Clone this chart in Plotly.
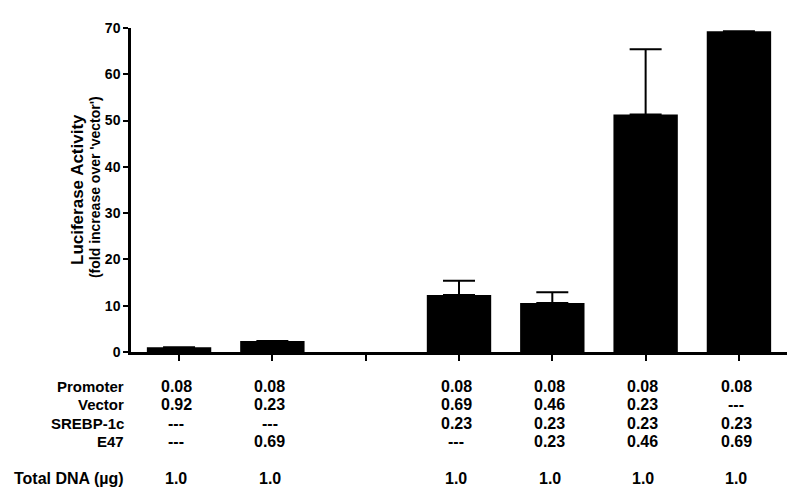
import plotly.graph_objects as go

# Data
groups = ["G1", "G2", "", "G3", "G4", "G5", "G6"]
activity = [1.0, 2.4, None, 12.3, 10.6, 51.3, 69.3]
err_up = [None, None, None, 3.1, 2.3, 14.1, None]
row_labels = ["Promoter", "Vector", "SREBP-1c", "E47", "Total DNA (µg)"]
promoter = ["0.08", "0.08", "", "0.08", "0.08", "0.08", "0.08"]
vector = ["0.92", "0.23", "", "0.69", "0.46", "0.23", "---"]
srebp = ["---", "---", "", "0.23", "0.23", "0.23", "0.23"]
e47 = ["---", "0.69", "", "---", "0.23", "0.46", "0.69"]
total_dna = ["1.0", "1.0", "", "1.0", "1.0", "1.0", "1.0"]
yticks = [0, 10, 20, 30, 40, 50, 60, 70]

FONT = "Liberation Sans, Arial, Helvetica, sans-serif"
xpos = list(range(len(groups)))

# page has an 8px body margin; compensate
OFF = 8
W, H = 800 - OFF, 500 - OFF

fig = go.Figure()
fig.add_trace(go.Bar(
    x=xpos, y=activity, width=0.69,
    marker=dict(color="black", line=dict(width=0)),
    error_y=dict(type="data", symmetric=False, array=err_up,
                 arrayminus=[0] * len(groups), color="black",
                 thickness=2, width=16, visible=True),
    showlegend=False,
))

# plot area geometry (page pixels)
top_px, bottom_px, left_px, right_px = 20, 352, 131, 787
def py(p):
    return (bottom_px - p) / (bottom_px - top_px)
def px(p):
    return (p - left_px) / (right_px - left_px)

rows = [promoter, vector, srebp, e47, total_dna]
row_y = [387, 406, 425, 444, 482]
label_sizes = [15, 15, 15, 15, 16]
ann = []
for lab, vals, ypix, ls in zip(row_labels, rows, row_y, label_sizes):
    ann.append(dict(text="<b>%s</b>" % lab, xref="paper", yref="paper",
                    x=px(126), y=py(ypix), xanchor="right", yanchor="middle",
                    showarrow=False, font=dict(family=FONT, size=ls, color="black")))
    for xi, v in zip(xpos, vals):
        if v:
            ann.append(dict(text="<b>%s</b>" % v, xref="x", yref="paper",
                            x=xi - 0.03, y=py(ypix), xanchor="center", yanchor="middle",
                            showarrow=False,
                            font=dict(family=FONT, size=16, color="black")))

# y-axis title (two lines, first slightly larger)
ann.append(dict(text="<b>Luciferase Activity</b>", xref="paper", yref="paper",
                x=px(77), y=py(186), xanchor="center", yanchor="middle",
                textangle=-90, showarrow=False,
                font=dict(family=FONT, size=17, color="black")))
ann.append(dict(text="<b>(fold increase over 'vector')</b>", xref="paper", yref="paper",
                x=px(95), y=py(183), xanchor="center", yanchor="middle",
                textangle=-90, showarrow=False,
                font=dict(family=FONT, size=14, color="black")))

fig.update_layout(
    width=W, height=H,
    margin=dict(l=left_px - OFF, r=800 - right_px, t=top_px - OFF, b=500 - bottom_px),
    paper_bgcolor="white", plot_bgcolor="white",
    annotations=ann,
    xaxis=dict(range=[-0.515, 6.515], tickvals=xpos, showticklabels=False,
               ticks="outside", ticklen=6, tickwidth=2, tickcolor="black",
               showline=True, linewidth=2.5, linecolor="black",
               showgrid=False, zeroline=False),
    yaxis=dict(range=[0, 70], tickvals=yticks, ticks="outside", ticklen=5,
               tickwidth=2, tickcolor="black", showline=True, linewidth=2.5,
               linecolor="black", showgrid=False, zeroline=False,
               tickfont=dict(family=FONT, size=14, color="black", weight="bold")),
)

fig.write_html("out.html")
